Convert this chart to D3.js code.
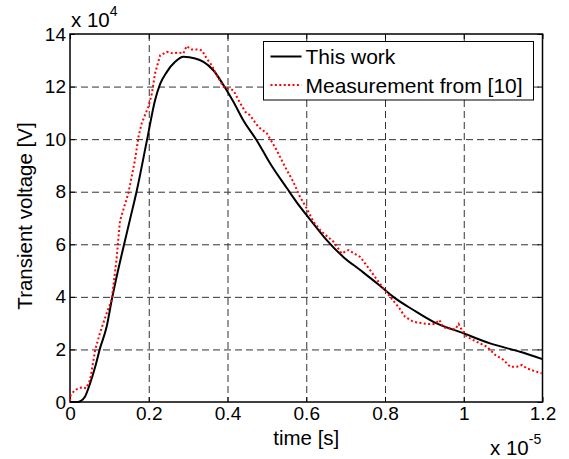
<!DOCTYPE html>
<html lang="en">
<head>
<meta charset="utf-8">
<title>Transient voltage</title>
<script src="https://cdn.jsdelivr.net/npm/d3@7"></script>
<style>
  body { margin: 0; background: #fff; }
  svg { display: block; font-family: "Liberation Sans", Arial, sans-serif; }
  .grid line { stroke: #333; stroke-width: 1; stroke-dasharray: 7,4; }
  .grid path { display: none; }
  .axis path { display: none; }
  .axis line { stroke: #000; stroke-width: 1; }
  .axis text { font-size: 19px; fill: #000; }
</style>
</head>
<body>
<script>
// time in units of 1e-5 s, voltage in units of 1e4 V
const thisWorkT = [0, 0.02, 0.025, 0.038, 0.051, 0.064, 0.076, 0.093, 0.106, 0.152, 0.169, 0.196, 0.216, 0.229,
  0.246, 0.267, 0.288, 0.318, 0.339, 0.364, 0.39, 0.415, 0.44, 0.474, 0.508, 0.551, 0.584, 0.618, 0.652,
  0.694, 0.737, 0.785, 0.821, 0.872, 0.923, 1.0, 1.067, 1.143, 1.2]
const thisWorkV = [0, 0, 0.02, 0.2, 0.71, 1.34, 2.03, 2.86, 3.88, 6.92, 8.0, 10.0, 11.48, 12.1,
  12.56, 12.94, 13.13, 13.07, 12.94, 12.62, 12.05, 11.42, 10.72, 9.96, 9.08, 8.13, 7.43, 6.79, 6.16,
  5.52, 5.02, 4.45, 4.0, 3.5, 3.05, 2.61, 2.23, 1.91, 1.63]

const measT = [0, 0.002, 0.013, 0.03, 0.041, 0.051, 0.064, 0.076, 0.093, 0.106, 0.118, 0.127, 0.148, 0.165,
  0.174, 0.182, 0.199, 0.208, 0.216, 0.229, 0.246, 0.262, 0.275, 0.288, 0.296, 0.309, 0.322, 0.335, 0.347,
  0.36, 0.373, 0.39, 0.402, 0.415, 0.428, 0.445, 0.457, 0.478, 0.5, 0.525, 0.546, 0.567, 0.584, 0.601,
  0.618, 0.639, 0.669, 0.69, 0.707, 0.737, 0.762, 0.788, 0.813, 0.834, 0.851, 0.872, 0.906, 0.927, 0.938,
  0.948, 0.965, 0.978, 0.987, 0.995, 1.008, 1.033, 1.059, 1.08, 1.101, 1.118, 1.135, 1.148, 1.16, 1.177, 1.198]
const measV = [0.05, 0.27, 0.46, 0.56, 0.52, 0.84, 1.98, 2.62, 3.37, 3.9, 5.4, 6.9, 7.93, 9.2,
  10.09, 10.6, 11.23, 11.74, 12.5, 13.19, 13.32, 13.26, 13.3, 13.26, 13.54, 13.41, 13.41, 13.38, 13.07,
  12.81, 12.43, 11.99, 11.93, 11.86, 11.48, 11.04, 10.91, 10.47, 10.22, 9.58, 8.95, 8.38, 7.81, 7.37,
  6.86, 6.48, 6.1, 5.65, 5.78, 5.52, 5.02, 4.48, 4.0, 3.62, 3.24, 3.05, 2.97, 2.97, 3.12,
  2.84, 2.8, 2.76, 2.97, 2.74, 2.48, 2.29, 2.1, 1.79, 1.6, 1.34, 1.34, 1.41, 1.28, 1.19, 1.09]

const xTicks = [0, 0.2, 0.4, 0.6, 0.8, 1, 1.2]
const yTicks = [0, 2, 4, 6, 8, 10, 12, 14]
const seriesNames = ["This work", "Measurement from [10]"]

let w = 569
let h = 459
let margin = {left: 70, right: 26.5, top: 34, bottom: 57}
let iw = w - margin.left - margin.right
let ih = h - margin.top - margin.bottom

let svg = d3.select("body").append("svg")
  .attr("width", w)
  .attr("height", h)

let g = svg.append("g")
  .attr("transform", "translate(" + margin.left + "," + margin.top + ")")

let xScale = d3.scaleLinear().domain([0, 1.2]).range([0, iw])
let yScale = d3.scaleLinear().domain([0, 14]).range([ih, 0])

// dashed grid
g.append("g")
  .attr("class", "grid")
  .call(d3.axisBottom(xScale).tickValues(xTicks.slice(1, -1)).tickSize(ih).tickFormat(""))
g.append("g")
  .attr("class", "grid")
  .call(d3.axisLeft(yScale).tickValues(yTicks.slice(1, -1)).tickSize(-iw).tickFormat(""))

// inward ticks on all four sides
g.append("g")
  .attr("class", "axis")
  .attr("transform", "translate(0," + ih + ")")
  .call(d3.axisBottom(xScale).tickValues(xTicks).tickSize(-5).tickPadding(5).tickFormat(d3.format("")))
g.append("g")
  .attr("class", "axis")
  .call(d3.axisTop(xScale).tickValues(xTicks).tickSize(-5).tickFormat(""))
g.append("g")
  .attr("class", "axis")
  .call(d3.axisLeft(yScale).tickValues(yTicks).tickSize(-5).tickPadding(4))
g.append("g")
  .attr("class", "axis")
  .attr("transform", "translate(" + iw + ",0)")
  .call(d3.axisRight(yScale).tickValues(yTicks).tickSize(-5).tickFormat(""))

// box
g.append("rect")
  .attr("width", iw)
  .attr("height", ih)
  .attr("fill", "none")
  .attr("stroke", "#000")
  .attr("stroke-width", 1.5)

let line = d3.line()
  .x((d) => xScale(d[0]))
  .y((d) => yScale(d[1]))
let smoothLine = d3.line()
  .curve(d3.curveMonotoneX)
  .x((d) => xScale(d[0]))
  .y((d) => yScale(d[1]))

let thisWork = thisWorkT.map((t, i) => [t, thisWorkV[i]])
let meas = measT.map((t, i) => [t, measV[i]])

g.append("path")
  .datum(thisWork)
  .attr("d", smoothLine)
  .attr("fill", "none")
  .attr("stroke", "#000")
  .attr("stroke-width", 2)

g.append("path")
  .datum(meas)
  .attr("d", line)
  .attr("fill", "none")
  .attr("stroke", "#ff0000")
  .attr("stroke-width", 2)
  .attr("stroke-dasharray", "2,2.4")

// legend
let lg = svg.append("g").attr("transform", "translate(263.5,41.5)")
lg.append("rect")
  .attr("width", 270)
  .attr("height", 58.5)
  .attr("fill", "#fff")
  .attr("stroke", "#000")
  .attr("stroke-width", 1)
let styles = [{stroke: "#000", dash: null}, {stroke: "#ff0000", dash: "2,2.4"}]
seriesNames.forEach(function(name, i) {
  let y = 15 + i * 28.5
  lg.append("line")
    .attr("x1", 7).attr("x2", 38)
    .attr("y1", y).attr("y2", y)
    .attr("stroke", styles[i].stroke)
    .attr("stroke-width", 2)
    .attr("stroke-dasharray", styles[i].dash)
  lg.append("text")
    .attr("x", 42)
    .attr("y", y + 7.5)
    .attr("font-size", 21)
    .text(name)
})

// axis labels and exponents
svg.append("text")
  .attr("x", margin.left + iw / 2)
  .attr("y", 445)
  .attr("text-anchor", "middle")
  .attr("font-size", 20.5)
  .text("time [s]")

svg.append("text")
  .attr("transform", "translate(32," + (margin.top + ih / 2 - 2) + ") rotate(-90)")
  .attr("text-anchor", "middle")
  .attr("font-size", 20.5)
  .text("Transient voltage [V]")

let e1 = svg.append("text").attr("x", 71).attr("y", 27).attr("font-size", 20.5)
e1.append("tspan").text("x 10")
e1.append("tspan").attr("dy", -11).attr("font-size", 14).text("4")

let e2 = svg.append("text").attr("x", 490).attr("y", 455).attr("font-size", 20.5)
e2.append("tspan").text("x 10")
e2.append("tspan").attr("dy", -11).attr("font-size", 14).text("-5")
</script>
</body>
</html>
